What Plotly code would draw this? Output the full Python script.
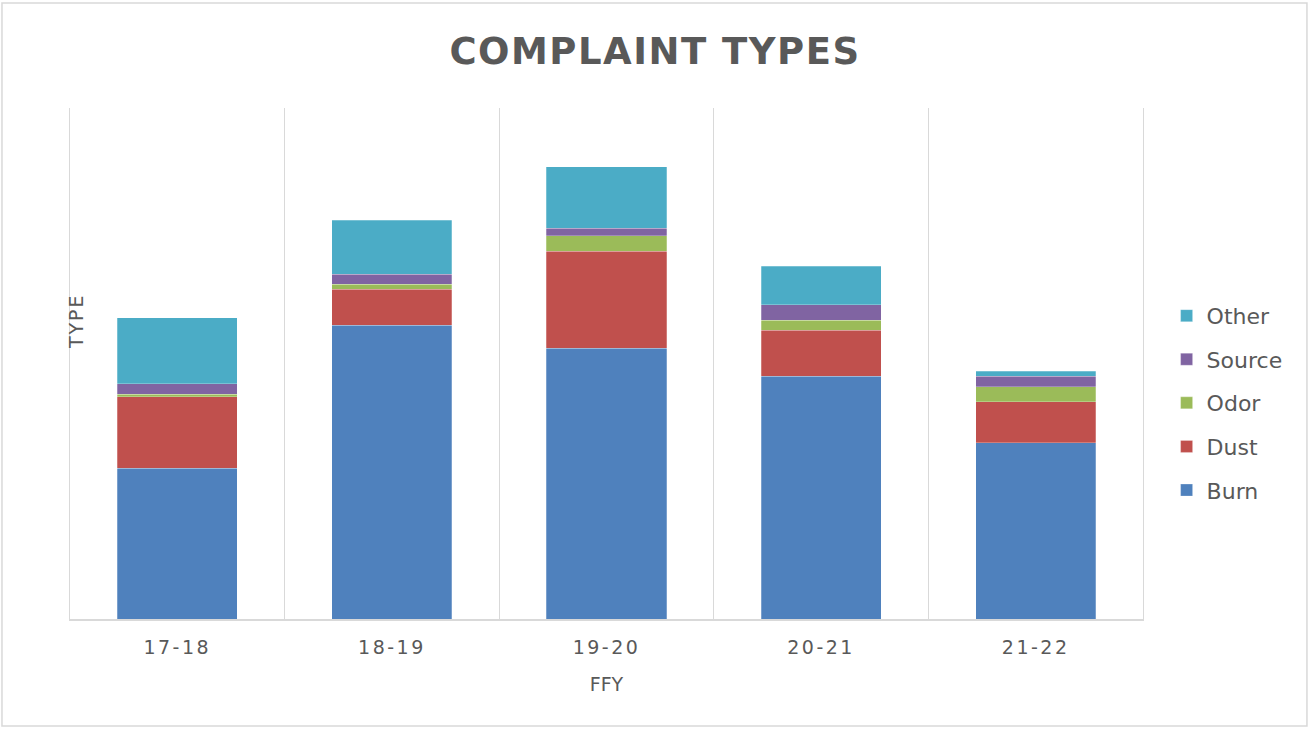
import plotly.graph_objects as go

categories = ["17-18", "18-19", "19-20", "20-21", "21-22"]
burn = [59, 115, 106, 95, 69]
dust = [28, 14, 38, 18, 16]
odor = [1, 2, 6, 4, 6]
source = [4, 4, 3, 6, 4]
other = [26, 21, 24, 15, 2]

series = [
    ("Burn", burn, "#4F81BD", 5),
    ("Dust", dust, "#C0504D", 4),
    ("Odor", odor, "#9BBB59", 3),
    ("Source", source, "#8064A2", 2),
    ("Other", other, "#4BACC6", 1),
]

FONT = "'DejaVu Sans', sans-serif"
GREY = "#595959"
LINE = "#D9D9D9"

fig = go.Figure()
for name, vals, color, rank in series:
    fig.add_trace(go.Bar(
        name=name, x=categories, y=vals, legendgroup=name, legendrank=rank,
        marker=dict(color=color, line=dict(color="rgba(255,255,255,0.5)", width=0.5)),
    ))

fig.update_layout(
    barmode="stack",
    bargap=0.44,
    width=1310, height=729,
    paper_bgcolor="white", plot_bgcolor="white",
    margin=dict(l=70, r=167, t=108, b=110),
    title=dict(text="<b>COMPLAINT TYPES</b>", x=0.5, xanchor="center", y=0.93, yanchor="middle",
               font=dict(family=FONT, size=37, color=GREY)),
    font=dict(family=FONT, color=GREY),
    legend=dict(traceorder="grouped", tracegroupgap=12, x=1.022, xanchor="left",
                y=0.423, yanchor="middle", font=dict(size=22, color=GREY), itemwidth=30),
    xaxis=dict(type="category", tickson="boundaries", showgrid=True, gridcolor=LINE,
               gridwidth=1, showline=True, linecolor=LINE, linewidth=1.5, ticks="",
               tickfont=dict(size=19, color=GREY), ticklabelstandoff=10,
               title=dict(text="FFY", font=dict(size=19, color=GREY), standoff=21)),
    yaxis=dict(range=[0, 200], showticklabels=False, showgrid=False, zeroline=False,
               showline=True, mirror=True, linecolor=LINE, linewidth=1, ticks=""),
    annotations=[dict(text="TYPE", textangle=-90, xref="paper", yref="paper", x=0.0056, y=0.583,
                      xanchor="center", yanchor="middle", showarrow=False,
                      font=dict(size=19, color=GREY))],
    shapes=[dict(type="rect", xref="paper", yref="paper", x0=-0.0634, x1=1.1528, y0=-0.2094, y1=1.2055,
                 line=dict(color=LINE, width=1.5), layer="below")],
)

post = """
document.body.style.margin='0px';
document.querySelectorAll('.gtitle').forEach(function(e){e.style.letterSpacing='1.5px';});
document.querySelectorAll('.xtick text').forEach(function(e){e.style.letterSpacing='2.5px';});
document.querySelectorAll('.annotation-text').forEach(function(e){e.style.letterSpacing='2px';});
"""

fig.write_html("out.html", post_script=post, config={"displayModeBar": False})
